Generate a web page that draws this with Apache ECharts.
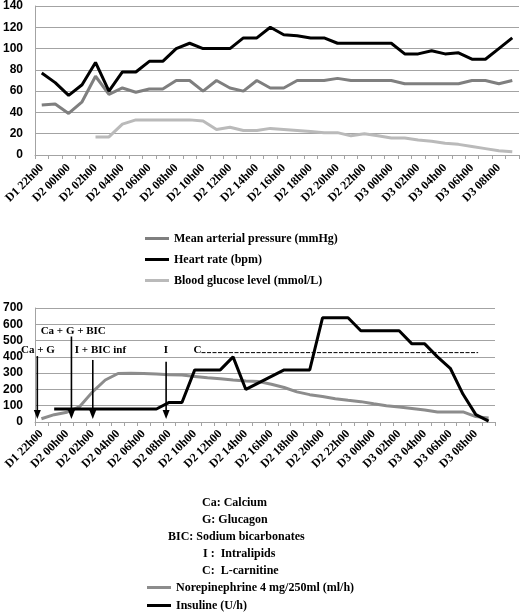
<!DOCTYPE html>
<html><head><meta charset="utf-8">
<script src="https://cdn.jsdelivr.net/npm/echarts@6/dist/echarts.min.js"></script>
<style>html,body{margin:0;padding:0;background:#fff}#c{width:520px;height:616px}</style>
</head><body><div id="c"></div>
<script>
// ---------- DATA ----------
const categories = [
  'D1 22h00','D1 23h00',
  'D2 00h00','D2 01h00','D2 02h00','D2 03h00','D2 04h00','D2 05h00','D2 06h00','D2 07h00',
  'D2 08h00','D2 09h00','D2 10h00','D2 11h00','D2 12h00','D2 13h00','D2 14h00','D2 15h00',
  'D2 16h00','D2 17h00','D2 18h00','D2 19h00','D2 20h00','D2 21h00','D2 22h00','D2 23h00',
  'D3 00h00','D3 01h00','D3 02h00','D3 03h00','D3 04h00','D3 05h00','D3 06h00','D3 07h00',
  'D3 08h00','D3 09h00'
];
const meanArterialPressure = [47,48,39,50,74,57,63,59,62,62,70,70,60,70,63,60,70,63,63,70,70,70,72,70,70,70,70,67,67,67,67,67,70,70,67,70];
const heartRate = [77,68,56,66,87,60,78,78,88,88,100,105,100,100,100,110,110,120,113,112,110,110,105,105,105,105,105,95,95,98,95,96,90,90,100,110];
const bloodGlucose = [null,null,null,null,17,17,29,33,33,33,33,33,32,24,26,23,23,25,24,23,22,21,21,18,20,18,16,16,14,13,11,10,8,6,4,3];
const norepinephrine = [20,45,60,95,185,258,298,300,298,295,290,288,280,272,265,258,252,248,232,212,185,168,157,143,133,125,112,100,92,83,74,62,62,62,33,25];
const insuline = [null,80,80,80,80,80,80,80,80,80,120,120,320,320,320,400,200,240,280,320,320,320,640,640,640,560,560,560,560,480,480,400,330,170,45,5];

const topAxis = {min:0, max:140, interval:20};
const bottomAxis = {min:0, max:700, interval:100};

const seriesNamesTop = ['Mean arterial pressure (mmHg)','Heart rate (bpm)','Blood glucose level (mmol/L)'];
const seriesNamesBottom = ['Norepinephrine 4 mg/250ml (ml/h)','Insuline (U/h)'];
const notes = ['Ca: Calcium','G: Glucagon','BIC: Sodium bicarbonates','I :  Intralipids','C:  L-carnitine'];

// annotations in data units of the lower chart: [category index, value]
const annotTexts = ['Ca + G','Ca + G + BIC','I + BIC inf','I'];
const annotTextAt = [[-0.27,443],[2.49,560],[4.62,443],[9.74,443]];
const annotArrowX = [-0.32,2.35,4.02,9.76];
const annotArrowTop = [405,525,381,370];
const annotArrowTip = [18,18,18,18];
const carnitineText = 'C';
const carnitineTextAt = [12.22,443];
const carnitineFrom = 12.53, carnitineTo = 34.18, carnitineValue = 426;

// ---------- LAYOUT / STYLE ----------
const noteLeft = [202,202,168,203,202];
const noteTop0 = 503.3, noteGap = 16.8;
const serif = 'Liberation Serif';
const sans = 'Liberation Sans';
const gridColor = '#a3a3a3';

function xAxisCfg(gi, margin){
  return {
    type:'category', gridIndex:gi, data:categories, boundaryGap:true,
    axisLine:{show:true, lineStyle:{color:gridColor, width:1}},
    axisTick:{show:true, interval:0, length:4, lineStyle:{color:gridColor}},
    axisLabel:{interval:1, rotate:45, margin:margin, fontFamily:serif, fontWeight:'bold', fontSize:12, color:'#000'},
    splitLine:{show:false}
  };
}
function yAxisCfg(gi, ax){
  return {
    type:'value', gridIndex:gi, min:ax.min, max:ax.max, interval:ax.interval,
    axisLine:{show:true, lineStyle:{color:gridColor}},
    axisTick:{show:false},
    axisLabel:{margin:12, fontFamily:sans, fontWeight:'bold', fontSize:12, color:'#000'},
    splitLine:{show:true, lineStyle:{color:gridColor, width:1}}
  };
}
function lineSeries(name, data, color, xi, z){
  return {name, type:'line', data, xAxisIndex:xi, yAxisIndex:xi, symbol:'none', showSymbol:false,
    connectNulls:false, z:z, lineStyle:{width:3, color}, itemStyle:{color}, emphasis:{disabled:true}};
}

const chart = echarts.init(document.getElementById('c'), null, {renderer:'canvas'});
chart.setOption({
  animation:false,
  backgroundColor:'#fff',
  grid:[
    {left:31, top:3, width:488, height:152, containLabel:false},
    {left:31, top:308, width:464, height:114, containLabel:false}
  ],
  xAxis:[xAxisCfg(0, 11), xAxisCfg(1, 10)],
  yAxis:[yAxisCfg(0, topAxis), yAxisCfg(1, bottomAxis)],
  legend:[
    {orient:'vertical', left:145, top:231.5, padding:0, icon:'rect', itemWidth:24, itemHeight:3, itemGap:7, selectedMode:false,
     data:seriesNamesTop, textStyle:{fontFamily:serif, fontWeight:'bold', fontSize:12, lineHeight:14, color:'#000'}},
    {orient:'vertical', left:147, top:581.5, padding:0, icon:'rect', itemWidth:24, itemHeight:3, itemGap:6, selectedMode:false,
     data:seriesNamesBottom, textStyle:{fontFamily:serif, fontWeight:'bold', fontSize:12, lineHeight:12, color:'#000'}}
  ],
  series:[
    lineSeries(seriesNamesTop[0], meanArterialPressure, '#7f7f7f', 0, 2),
    lineSeries(seriesNamesTop[1], heartRate, '#000000', 0, 3),
    lineSeries(seriesNamesTop[2], bloodGlucose, '#bababa', 0, 4),
    lineSeries(seriesNamesBottom[0], norepinephrine, '#8c8c8c', 1, 2),
    lineSeries(seriesNamesBottom[1], insuline, '#000000', 1, 3)
  ]
});

// ---------- annotations (positioned from data coordinates) ----------
function px(i, v){
  const f = {xAxisIndex:1, yAxisIndex:1};
  const a = chart.convertToPixel(f, [0, v]);
  const b = chart.convertToPixel(f, [1, v]);
  return [a[0] + (b[0]-a[0]) * i, a[1]];
}
const g = [];
const annFont = {fontFamily:serif, fontWeight:'bold', fontSize:11, fill:'#000'};
annotTexts.forEach((t, k) => {
  const p = px(annotTextAt[k][0], annotTextAt[k][1]);
  g.push({type:'text', z:50, style:Object.assign({text:t, x:p[0], y:p[1], textAlign:'center', textVerticalAlign:'middle'}, annFont)});
  const top = px(annotArrowX[k], annotArrowTop[k]);
  const tip = px(annotArrowX[k], annotArrowTip[k]);
  g.push({type:'line', z:50, shape:{x1:top[0], y1:top[1], x2:tip[0], y2:tip[1]-6}, style:{stroke:'#000', lineWidth:1.6}});
  g.push({type:'polygon', z:50, shape:{points:[[tip[0]-3.5, tip[1]-9],[tip[0]+3.5, tip[1]-9],[tip[0], tip[1]]]}, style:{fill:'#000'}});
});
{
  const p = px(carnitineTextAt[0], carnitineTextAt[1]);
  g.push({type:'text', z:50, style:Object.assign({text:carnitineText, x:p[0], y:p[1], textAlign:'center', textVerticalAlign:'middle'}, annFont)});
  const a = px(carnitineFrom, carnitineValue), b = px(carnitineTo, carnitineValue);
  g.push({type:'line', z:50, shape:{x1:a[0], y1:a[1], x2:b[0], y2:b[1]}, style:{stroke:'#000', lineWidth:1, lineDash:[4,1.5]}});
}
notes.forEach((t, k) => {
  g.push({type:'text', z:50, style:Object.assign({text:t, x:noteLeft[k], y:noteTop0 + noteGap*k, textAlign:'left', textVerticalAlign:'middle'},
    {fontFamily:serif, fontWeight:'bold', fontSize:12, fill:'#000'})});
});
chart.setOption({graphic:g});
</script>
</body></html>
